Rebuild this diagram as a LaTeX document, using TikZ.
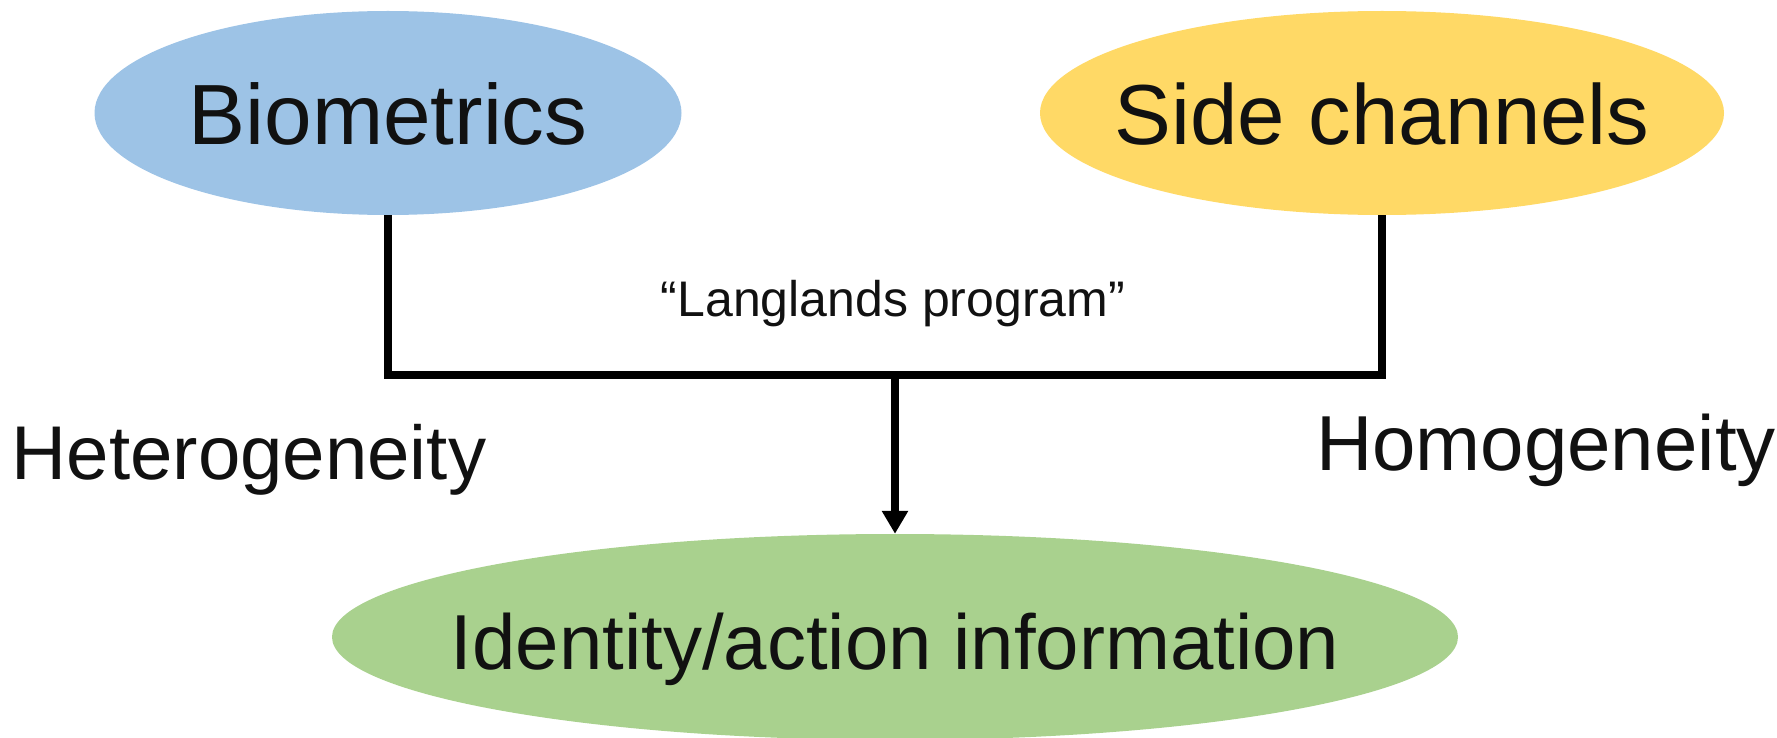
\documentclass[tikz,border=0pt]{standalone}
\usepackage{fontspec}
\setmainfont{Liberation Sans}
\usetikzlibrary{shapes.geometric,arrows.meta}
\definecolor{bioblue}{HTML}{9DC3E6}
\definecolor{sideyellow}{HTML}{FFD966}
\definecolor{idgreen}{HTML}{A9D18E}
\definecolor{ink}{HTML}{111111}
\tikzset{
  blob/.style={ellipse, inner sep=0pt, text height=64pt, text depth=0pt, text=ink},
  linkline/.style={draw=black, line width=8pt, line join=miter},
  lbl/.style={inner sep=0pt, anchor=base, text=ink},
}
\newcommand{\fs}[1]{\fontsize{#1}{#1}\selectfont}
\begin{document}
\begin{tikzpicture}[x=1pt, y=-1pt]
  \useasboundingbox (0,0) rectangle (1777,738);

  % sources and target
  \node[blob, fill=bioblue, minimum width=587pt, minimum height=204pt]
    (bio) at (388,113) {\fs{85.5}\makebox[0pt]{Biometrics}};
  \node[blob, fill=sideyellow, minimum width=684pt, minimum height=204pt]
    (side) at (1382,113) {\fs{85.2}\makebox[0pt]{Side channels}};
  \node[blob, fill=idgreen, minimum width=1126pt, minimum height=206pt]
    (ident) at (895,637) {\fs{78}\makebox[0pt]{Identity/action information}};

  % side labels
  \node[lbl] (het) at (249,479) {\fs{76.2}Heterogeneity};
  \node[lbl] (hom) at (1546,470) {\fs{78}Homogeneity};
  \node[lbl] (lang) at (893,316) {\fs{50}“Langlands program”};

  % joining bracket and arrow
  \coordinate (join) at (895,375);
  \draw[linkline] (bio.south) |- (join) -| (side.south);
  \draw[linkline, -{Triangle[width=25pt, length=23pt]}] (join) -- (ident.north);
\end{tikzpicture}
\end{document}
